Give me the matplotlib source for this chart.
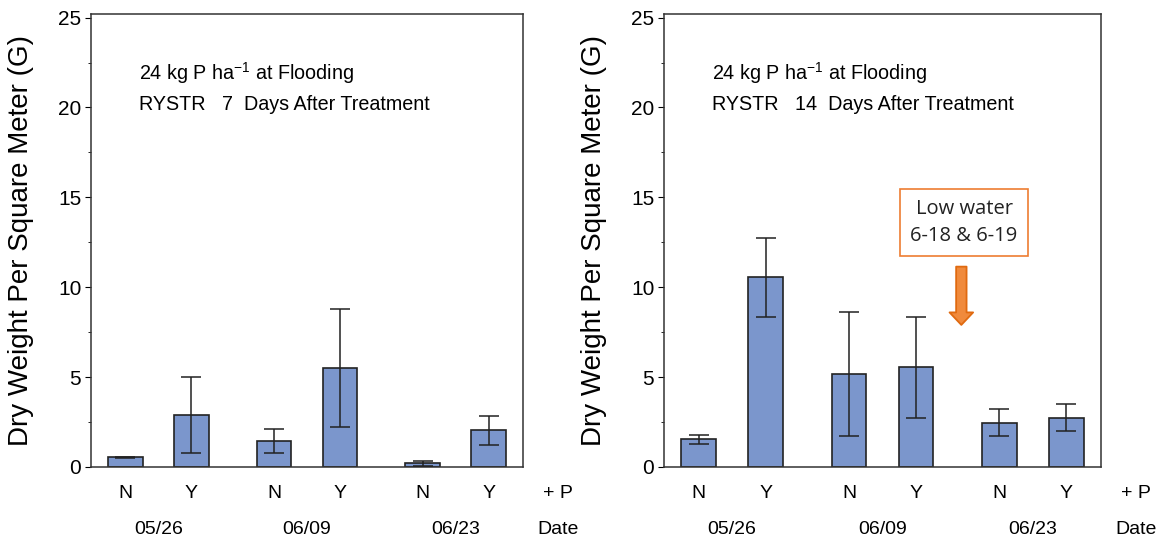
import matplotlib
matplotlib.use("Agg")
import matplotlib.pyplot as plt
import numpy as np

plt.rcParams['font.family'] = ['Liberation Sans', 'DejaVu Sans']

# data
p_labels = ['N', 'Y', 'N', 'Y', 'N', 'Y']
dates = ['05/26', '06/09', '06/23']

day7_mean = [0.55, 2.9, 1.45, 5.5, 0.2, 2.05]
day7_err = [0.03, 2.1, 0.65, 3.3, 0.12, 0.8]

day14_mean = [1.55, 10.55, 5.2, 5.55, 2.45, 2.75]
day14_err = [0.25, 2.2, 3.45, 2.8, 0.75, 0.75]

panel_days = ['7', '14']

# bar positions: pairs with a wider gap between dates
xpos = np.array([0, 1, 2.25, 3.25, 4.5, 5.5])
date_pos = [0.5, 2.75, 5.0]

bar_color = '#7B96CC'
edge_color = '#222222'

W, H = 1157, 558
fig = plt.figure(figsize=(W / 100, H / 100), dpi=100)


def draw_panel(left_px, width_px, means, errs, days):
    ax = fig.add_axes([left_px / W, (H - 467) / H, width_px / W, 453 / H])
    ax.bar(xpos, means, width=0.52, color=bar_color, edgecolor=edge_color,
           linewidth=1.2, zorder=2)
    ax.errorbar(xpos, means, yerr=errs, fmt='none', ecolor='#222222',
                elinewidth=1.1, capsize=7, capthick=1.1, zorder=3)
    ax.set_xlim(-0.52, 6.02)
    ax.set_ylim(0, 25.2)
    ax.set_yticks([0, 5, 10, 15, 20, 25])
    ax.set_yticks([2.5, 7.5, 12.5, 17.5, 22.5], minor=True)
    ax.tick_params(axis='y', which='major', direction='out', length=4,
                   labelsize=15, pad=3)
    ax.tick_params(axis='y', which='minor', direction='out', length=2)
    ax.set_xticks([])
    for s in ax.spines.values():
        s.set_linewidth(1.1)
        s.set_color('#333333')
    ax.set_ylabel('Dry Weight Per Square Meter (G)', fontsize=20)
    ax.yaxis.set_label_coords(-57 / width_px, 0.5)

    for x, lab in zip(xpos, p_labels):
        ax.text(x, -1.45, lab, ha='center', va='center', fontsize=14)
    ax.text(6.55, -1.45, '+ P', ha='center', va='center', fontsize=14,
            clip_on=False)
    for x, d in zip(date_pos, dates):
        ax.text(x, -3.5, d, ha='center', va='center', fontsize=14)
    ax.text(6.55, -3.5, 'Date', ha='center', va='center', fontsize=14,
            clip_on=False)

    ax.text(0.11, 0.87, r'24 kg P ha$^{\mathregular{-1}}$ at Flooding',
            transform=ax.transAxes, fontsize=14.2, va='center')
    ax.text(0.11, 0.80, 'RYSTR   ' + days + '  Days After Treatment',
            transform=ax.transAxes, fontsize=14.2, va='center')
    return ax


ax1 = draw_panel(91, 432, day7_mean, day7_err, panel_days[0])
ax2 = draw_panel(664, 437, day14_mean, day14_err, panel_days[1])

# low water note on the 14 day panel
ax2.text(3.97, 13.6, 'Low water\n6-18 & 6-19', ha='center', va='center',
         fontsize=14.5, family=['Open Sans', 'DejaVu Sans'], linespacing=1.45,
         color='#222222',
         bbox=dict(boxstyle='square,pad=0.5', fc='white', ec='#ED7D31', lw=1.2))
ax2.annotate('', xy=(3.93, 7.75), xytext=(3.93, 11.3),
             arrowprops=dict(arrowstyle='simple,head_width=1.7,head_length=0.9,tail_width=0.75',
                             fc='#F08A3C', ec='#E06A10', lw=1.3))

fig.savefig('out.png', dpi=100)
